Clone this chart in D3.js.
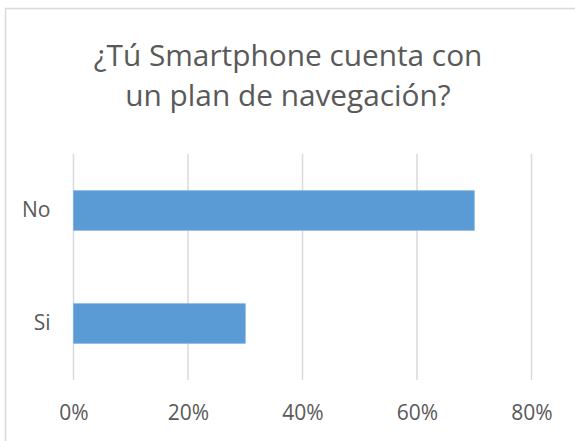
<!DOCTYPE html>
<html>
<head>
<meta charset="utf-8">
<script src="https://cdn.jsdelivr.net/npm/d3@7"></script>
<style>
  body { margin: 0; background: #fff; }
  svg { display: block; font-family: "Open Sans", "Noto Sans", sans-serif; }
</style>
</head>
<body>
<script>
const TITLE_LINES = ['¿Tú Smartphone cuenta con', 'un plan de navegación?'];
const categories = ['No', 'Si'];
const values = [0.70, 0.30];
const tickValues = [0, 0.2, 0.4, 0.6, 0.8];

const width = 575, height = 441;
const margin = { top: 154, right: 43.5, bottom: 61, left: 73.5 };
const LABEL_FONT = 21;

const svg = d3.select('body').append('svg')
  .attr('width', width)
  .attr('height', height);

// chart frame (only top and left edges fall inside the picture)
svg.append('rect')
  .attr('x', 5.5).attr('y', 8.5)
  .attr('width', 700).attr('height', 600)
  .attr('fill', 'none')
  .attr('stroke', '#d9d9d9')
  .attr('stroke-width', 1.5);

// title
svg.append('text')
  .attr('fill', '#595959')
  .attr('font-size', 29.8)
  .attr('text-anchor', 'middle')
  .selectAll('tspan')
  .data(TITLE_LINES)
  .join('tspan')
    .attr('x', 288)
    .attr('y', (d, i) => 66 + i * 40)
    .text(d => d);

const x = d3.scaleLinear()
  .domain([0, 0.8])
  .range([margin.left, width - margin.right]);

const y = d3.scaleBand()
  .domain(categories)
  .range([margin.top, height - margin.bottom])
  .paddingInner(0.65)
  .paddingOuter(0.325);

// gridlines
svg.append('g')
  .selectAll('line')
  .data(tickValues)
  .join('line')
    .attr('x1', d => x(d)).attr('x2', d => x(d))
    .attr('y1', margin.top).attr('y2', height - margin.bottom)
    .attr('stroke', '#d9d9d9')
    .attr('stroke-width', 1.5);

// bars
svg.append('g')
  .selectAll('rect')
  .data(categories)
  .join('rect')
    .attr('x', x(0))
    .attr('y', d => y(d))
    .attr('width', (d, i) => x(values[i]) - x(0))
    .attr('height', y.bandwidth())
    .attr('fill', '#5b9bd5')
    .attr('stroke', '#7aaee0')
    .attr('stroke-width', 0.75);

// x axis labels
const xAxis = d3.axisBottom(x)
  .tickValues(tickValues)
  .tickFormat(d3.format('.0%'))
  .tickSize(0)
  .tickPadding(0);

svg.append('g')
  .attr('transform', `translate(0,${height - margin.bottom + 25.5})`)
  .call(xAxis)
  .attr('font-size', LABEL_FONT)
  .attr('font-family', null)
  .call(g => g.select('.domain').remove())
  .call(g => g.selectAll('text').attr('fill', '#595959'));

// y axis labels
const yAxis = d3.axisLeft(y)
  .tickSize(0)
  .tickPadding(23);

svg.append('g')
  .attr('transform', `translate(${margin.left},0)`)
  .call(yAxis)
  .attr('font-size', LABEL_FONT)
  .attr('font-family', null)
  .call(g => g.select('.domain').remove())
  .call(g => g.selectAll('text').attr('fill', '#595959'));
</script>
</body>
</html>
